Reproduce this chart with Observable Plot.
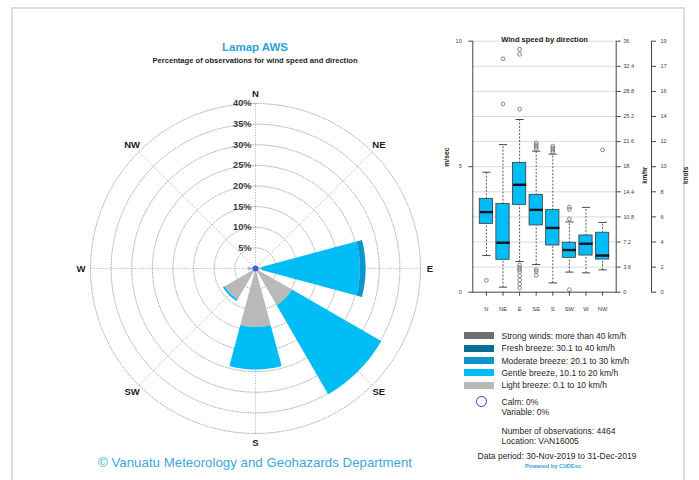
<!DOCTYPE html>
<html>
<head>
<meta charset="utf-8">
<script src="https://cdn.jsdelivr.net/npm/d3@7"></script>
<script src="https://cdn.jsdelivr.net/npm/@observablehq/plot@0.6"></script>
<style>
  html, body { margin: 0; padding: 0; background: #ffffff; }
  #page { position: relative; width: 699px; height: 480px; overflow: hidden; background: #ffffff;
          font-family: "Liberation Sans", Arial, Helvetica, sans-serif; }
  #panel { position: absolute; left: 11px; top: 7px; width: 674px; height: 490px;
           border: 2px solid #dcdcdc; box-sizing: border-box; }
  .t { position: absolute; white-space: nowrap; line-height: 1; }
  .swatch { position: absolute; width: 30px; height: 7px; }
</style>
</head>
<body>
<div id="page"><div id="panel"></div></div>
<script>
// ---- Wind rose: percentage of observations per direction and speed class ----
const directions = ["N", "NE", "E", "SE", "S", "SW", "W", "NW"];
const speedClasses = [
  "Light breeze: 0.1 to 10 km/h",
  "Gentle breeze, 10.1 to 20 km/h",
  "Moderate breeze: 20.1 to 30 km/h",
  "Fresh breeze: 30.1 to 40 km/h",
  "Strong winds: more than 40 km/h"
];
const speedColors = ["#b9b9b9", "#00bdf6", "#0b97cb", "#0b6d94", "#6f6f6f"];
const lightBreeze    = [0, 0, 1.5, 10.2, 14.2, 8.6, 1.9, 0];
const gentleBreeze   = [0, 0, 23.8, 25.0, 10.3, 0.5, 0, 0];
const moderateBreeze = [0, 0, 1.4, 0, 0, 0, 0, 0];
const freshBreeze    = [0, 0, 0, 0, 0, 0, 0, 0];
const strongWinds    = [0, 0, 0, 0, 0, 0, 0, 0];
const ringPercents = [5, 10, 15, 20, 25, 30, 35, 40];
const calmPercent = 0;
const variablePercent = 0;
const observationCount = 4464;
const stationId = "VAN16005";
const periodStart = "30-Nov-2019";
const periodEnd = "31-Dec-2019";

// ---- Box plot: wind speed (m/s) by direction ----
const boxLow    = [1.46, 0.20, 1.22, 1.10, 0.37, 0.80, 0.77, 0.89];
const boxQ1     = [2.72, 1.29, 3.48, 2.66, 1.86, 1.37, 1.46, 1.30];
const boxMedian = [3.19, 1.97, 4.28, 3.28, 2.56, 1.68, 1.93, 1.46];
const boxQ3     = [3.72, 3.51, 5.15, 3.87, 3.27, 1.97, 2.26, 2.37];
const boxHigh   = [4.78, 5.88, 6.88, 5.62, 5.50, 2.80, 3.38, 2.78];
const boxOutliers = [
  [0.47],
  [9.30, 7.50],
  [9.68, 9.48, 7.29, 1.08, 0.98, 0.90, 0.82, 0.66, 0.49, 0.33, 0.17],
  [5.95, 5.87, 5.80, 5.72, 0.90, 0.83, 0.67],
  [5.82, 5.74, 5.66, 5.58],
  [3.39, 3.30, 2.92, 0.10],
  [],
  [5.67]
];
const speedTicksMs = [0, 1, 2, 3, 4, 5, 6, 7, 8, 9, 10];
const kmhLabels   = ["0", "3.6", "7.2", "10.8", "14.4", "18", "21.6", "25.2", "28.8", "32.4", "36"];
const knotLabels  = ["0", "2", "4", "6", "8", "10", "12", "14", "16", "17", "19"];
const msLabelTicks = [0, 5, 10];

const page = document.getElementById("page");
const FONT = '"Liberation Sans", Arial, Helvetica, sans-serif';

function addText(text, x, y, css, anchor = "middle") {
  const el = document.createElement("div");
  el.className = "t";
  el.textContent = text;
  el.style.left = x + "px";
  el.style.top = y + "px";
  el.style.transform = anchor === "middle" ? "translate(-50%,-50%)"
                     : anchor === "end" ? "translate(-100%,-50%)" : "translate(0,-50%)";
  Object.assign(el.style, css);
  page.appendChild(el);
  return el;
}
function place(svg, left, top) {
  svg.style.position = "absolute";
  svg.style.left = left + "px";
  svg.style.top = top + "px";
  svg.style.overflow = "visible";
  page.appendChild(svg);
}

// ================= Wind rose =================
const ROSE_SIZE = 400;
const PX_PER_PCT = 165 / 40;
const roseHalf = ROSE_SIZE / 2 / PX_PER_PCT;
const rad = (deg) => deg * Math.PI / 180;
const polar = (r, deg) => ({x: r * Math.sin(rad(deg)), y: r * Math.cos(rad(deg))});

const ringPoints = ringPercents.flatMap((r) =>
  d3.range(0, 361, 2).map((a) => ({ring: r, ...polar(r, a)})));

const spokes = directions.map((d, i) => {
  const end = polar(d3.max(ringPercents), i * 45);
  return {x1: 0, y1: 0, x2: end.x, y2: end.y};
});

const classSeries = [lightBreeze, gentleBreeze, moderateBreeze, freshBreeze, strongWinds];
const HALF_WIDTH = 15;
// petal sectors, stacked outward by speed class
const sectorsByClass = classSeries.map(() => []);
directions.forEach((dir, i) => {
  const centre = i * 45;
  let inner = 0;
  classSeries.forEach((series, c) => {
    const v = series[i];
    if (v <= 0) return;
    const outer = inner + v;
    const key = dir + "-" + c;
    const arcIn = d3.range(centre - HALF_WIDTH, centre + HALF_WIDTH + 0.01, 1).map((a) => ({key, ...polar(inner, a)}));
    const arcOut = d3.range(centre + HALF_WIDTH, centre - HALF_WIDTH - 0.01, -1).map((a) => ({key, ...polar(outer, a)}));
    sectorsByClass[c].push(...arcIn, ...arcOut);
    inner = outer;
  });
});

const labelRadius = 42.3;
const rose = Plot.plot({
  width: ROSE_SIZE, height: ROSE_SIZE, margin: 0,
  x: {domain: [-roseHalf, roseHalf], axis: null},
  y: {domain: [-roseHalf, roseHalf], axis: null},
  style: {background: "none", fontFamily: FONT},
  marks: [
    Plot.line(ringPoints, {x: "x", y: "y", z: "ring", stroke: "#9a9a9a", strokeWidth: 0.8, strokeDasharray: "1,1.6"}),
    Plot.link(spokes, {x1: "x1", y1: "y1", x2: "x2", y2: "y2", stroke: "#9a9a9a", strokeWidth: 0.8, strokeDasharray: "1,1.6"}),
    ...sectorsByClass.map((pts, c) =>
      Plot.line(pts, {x: "x", y: "y", z: "key", fill: speedColors[c], stroke: "none"})),
    Plot.dot([calmPercent], {x: () => 0, y: () => 0, r: 3, fill: "#3d5fe3", stroke: "none"}),
    Plot.text(ringPercents, {x: () => 0, y: (d) => d, text: (d) => d + "%", textAnchor: "end", dx: -4,
      fontSize: 9.2, fontWeight: "bold", fill: "#3a3a3a"}),
    Plot.text(directions, {x: (d, i) => polar(labelRadius, i * 45).x, y: (d, i) => polar(labelRadius, i * 45).y,
      text: (d) => d, fontSize: 9.5, fontWeight: "bold", fill: "#222"})
  ]
});
place(rose, 255 - ROSE_SIZE / 2, 268 - ROSE_SIZE / 2);

addText("Lamap AWS", 255, 48, {fontSize: "11.5px", fontWeight: "bold", color: "#2ea3d8"});
addText("Percentage of observations for wind speed and direction", 255, 61, {fontSize: "7.6px", fontWeight: "bold", color: "#1e1e1e"});
addText("\u00a9 Vanuatu Meteorology and Geohazards Department", 255, 463, {fontSize: "13.3px", color: "#3da8d6"});

// ================= Box plot =================
const boxes = directions.map((d, i) => ({
  pos: i + 1, dir: d, lo: boxLow[i], q1: boxQ1[i], med: boxMedian[i], q3: boxQ3[i], hi: boxHigh[i]
}));
const outlierPoints = boxOutliers.flatMap((vals, i) => vals.map((v) => ({pos: i + 1, v})));
const BOX_HALF = 0.4, CAP_HALF = 0.25;

const BP = {left: 440, top: 25, width: 259, height: 295};
const bp = {mL: 472.3 - BP.left, mR: BP.left + BP.width - 615.7, mT: 40.7 - BP.top, mB: BP.top + BP.height - 291.7};
const axisColor = "#444";

const boxPlot = Plot.plot({
  width: BP.width, height: BP.height,
  marginLeft: bp.mL, marginRight: bp.mR, marginTop: bp.mT, marginBottom: bp.mB,
  x: {domain: [0.18, 8.82]},
  y: {domain: [0, 10]},
  style: {background: "none", fontFamily: FONT},
  marks: [
    Plot.ruleY(speedTicksMs.filter((d) => d > 0), {stroke: "#cfcfcf", strokeWidth: 0.8}),
    Plot.link(boxes, {x1: "pos", x2: "pos", y1: "q3", y2: "hi", stroke: "#333", strokeWidth: 0.8, strokeDasharray: "2,1.5"}),
    Plot.link(boxes, {x1: "pos", x2: "pos", y1: "lo", y2: "q1", stroke: "#333", strokeWidth: 0.8, strokeDasharray: "2,1.5"}),
    Plot.link(boxes, {x1: (d) => d.pos - CAP_HALF, x2: (d) => d.pos + CAP_HALF, y1: "hi", y2: "hi", stroke: "#333", strokeWidth: 0.9}),
    Plot.link(boxes, {x1: (d) => d.pos - CAP_HALF, x2: (d) => d.pos + CAP_HALF, y1: "lo", y2: "lo", stroke: "#333", strokeWidth: 0.9}),
    Plot.rect(boxes, {x1: (d) => d.pos - BOX_HALF, x2: (d) => d.pos + BOX_HALF, y1: "q1", y2: "q3",
      fill: speedColors[1], stroke: "#3a3a3a", strokeWidth: 0.8}),
    Plot.link(boxes, {x1: (d) => d.pos - BOX_HALF, x2: (d) => d.pos + BOX_HALF, y1: "med", y2: "med", stroke: "#111", strokeWidth: 2.4}),
    Plot.dot(outlierPoints, {x: "pos", y: "v", r: 1.9, stroke: "#6a6a6a", strokeWidth: 0.8, fill: "none"}),
    Plot.frame({anchor: "left", stroke: axisColor, strokeWidth: 1}),
    Plot.frame({anchor: "right", stroke: axisColor, strokeWidth: 1}),
    Plot.frame({anchor: "bottom", stroke: axisColor, strokeWidth: 1}),
    Plot.axisX({ticks: boxes.map((b) => b.pos), tickFormat: (d) => directions[d - 1], tickSize: 4, tickPadding: 11,
      fontSize: 5.8, color: axisColor, label: null}),
    Plot.axisY({anchor: "left", ticks: msLabelTicks, tickFormat: (d) => String(d), tickSize: 4, tickPadding: 7,
      fontSize: 5.6, color: axisColor, label: null}),
    Plot.axisY({anchor: "right", ticks: speedTicksMs, tickFormat: (d, i) => kmhLabels[i], tickSize: 4, tickPadding: 3,
      fontSize: 5.6, color: axisColor, label: null}),
    Plot.text(["m/sec"], {frameAnchor: "left", rotate: -90, dx: -26, fontSize: 6.8, fontWeight: "bold", fill: "#222"}),
    Plot.text(["km/hr"], {frameAnchor: "right", rotate: -90, dx: 29, fontSize: 6.3, fontWeight: "bold", fill: "#222"}),
    Plot.text(["Wind speed by direction"], {frameAnchor: "top", dy: -5, fontSize: 7.5, fontWeight: "bold", fill: "#222"})
  ]
});
place(boxPlot, BP.left, BP.top);

// knots axis, drawn on its own beside the km/hr axis
const KN = {left: 640, width: 59};
const knotAxis = Plot.plot({
  width: KN.width, height: BP.height,
  marginLeft: 651 - KN.left, marginRight: KN.left + KN.width - 651, marginTop: bp.mT, marginBottom: bp.mB,
  y: {domain: [0, 10]},
  style: {background: "none", fontFamily: FONT},
  marks: [
    Plot.frame({anchor: "right", stroke: axisColor, strokeWidth: 1}),
    Plot.axisY({anchor: "right", ticks: speedTicksMs, tickFormat: (d, i) => knotLabels[i], tickSize: 4, tickPadding: 5,
      fontSize: 5.6, color: axisColor, label: null}),
    Plot.text(["knots"], {frameAnchor: "right", rotate: -90, dx: 34, fontSize: 6.5, fontWeight: "bold", fill: "#222"})
  ]
});
place(knotAxis, KN.left, BP.top);

// ================= Legend & station details =================
const legendRowsY = [335.7, 348.2, 360.6, 372.8, 385.2];
const legendOrder = [4, 3, 2, 1, 0];
legendOrder.forEach((c, row) => {
  const sw = document.createElement("div");
  sw.className = "swatch";
  sw.style.left = "464px";
  sw.style.top = (legendRowsY[row] - 3.5) + "px";
  sw.style.background = speedColors[c];
  page.appendChild(sw);
  addText(speedClasses[c], 501.5, legendRowsY[row], {fontSize: "8.5px", color: "#1e1e1e"}, "start");
});
const calmRing = document.createElement("div");
Object.assign(calmRing.style, {position: "absolute", left: "475.5px", top: "395.5px", width: "9px", height: "9px",
  border: "1.6px solid #3535d0", borderRadius: "50%"});
page.appendChild(calmRing);
addText("Calm: " + calmPercent + "%", 501.5, 401.5, {fontSize: "8.5px", color: "#1e1e1e"}, "start");
addText("Variable: " + variablePercent + "%", 501.5, 411.5, {fontSize: "8.5px", color: "#1e1e1e"}, "start");
addText("Number of observations:  " + observationCount, 501.5, 431, {fontSize: "8.5px", color: "#1e1e1e"}, "start");
addText("Location:  " + stationId, 501.5, 440.8, {fontSize: "8.5px", color: "#1e1e1e"}, "start");
addText("Data period: " + periodStart + " to " + periodEnd, 557, 455.7, {fontSize: "8.5px", color: "#1e1e1e"});
addText("Powered by CliDEsc", 553, 466.7, {fontSize: "5.8px", fontWeight: "bold", color: "#3a9fd8"});
</script>
</body>
</html>
